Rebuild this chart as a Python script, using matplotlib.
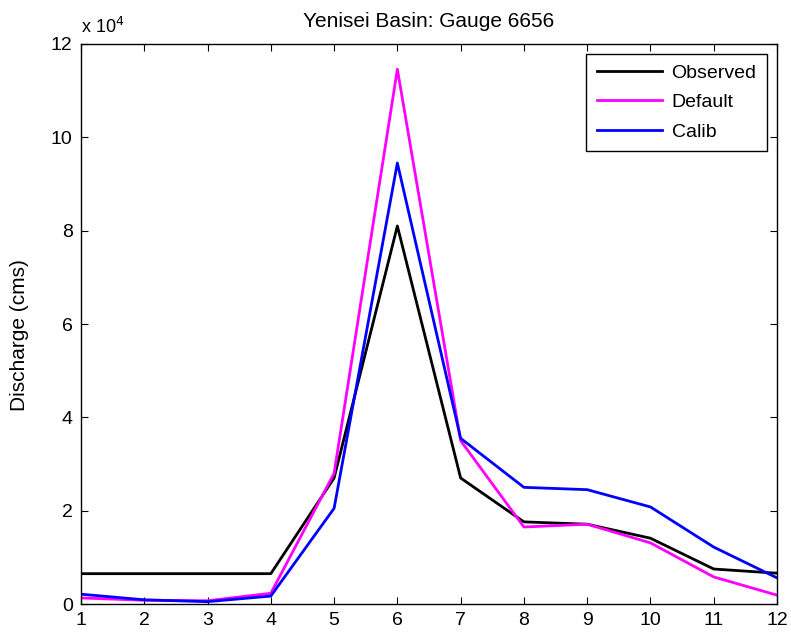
import numpy as np
import matplotlib.pyplot as plt
from matplotlib.ticker import FuncFormatter

plt.rcParams['font.family'] = ['Liberation Sans', 'DejaVu Sans']

months = np.arange(1, 13)
observed = [6500, 6500, 6500, 6500, 27000, 81000, 27000, 17600, 17100, 14100, 7500, 6600]
default = [1300, 800, 700, 2300, 28000, 114600, 35000, 16500, 17100, 13100, 5800, 1900]
calib = [2100, 900, 500, 1700, 20500, 94500, 35500, 25000, 24500, 20800, 12200, 5600]

fig = plt.figure(figsize=(7.91, 6.33), dpi=100)
ax = fig.add_axes([0.1024, 0.0458, 0.8799, 0.8847])

ax.plot(months, observed, color='black', lw=2.0, label='Observed')
ax.plot(months, default, color='#ff00ff', lw=2.0, label='Default')
ax.plot(months, calib, color='#0000ff', lw=2.0, label='Calib')

ax.set_xlim(1, 12)
ax.set_ylim(0, 120000)
ax.set_xticks(months)
ax.set_yticks(np.arange(0, 120001, 20000))
ax.yaxis.set_major_formatter(FuncFormatter(lambda v, p: '%g' % (v / 1e4)))
ax.tick_params(direction='in', top=True, right=True, labelsize=14, length=5, pad=6)
for s in ax.spines.values():
    s.set_linewidth(1.0)

ax.set_title('Yenisei Basin: Gauge 6656', fontsize=15, pad=12)
ax.set_ylabel('Discharge (cms)', fontsize=15)
ax.yaxis.set_label_coords(-0.0747, 0.48)
ax.text(0.0, 1.0196, r'x 10$^4$', transform=ax.transAxes, fontsize=13,
        ha='left', va='baseline')

leg = ax.legend(loc='upper right', fontsize=14, fancybox=False, framealpha=1,
                edgecolor='black', handlelength=3.35, handletextpad=0.5,
                borderpad=0.55, labelspacing=0.6, borderaxespad=0.5)
leg.get_frame().set_linewidth(1.0)

plt.savefig('out.png', dpi=100)
